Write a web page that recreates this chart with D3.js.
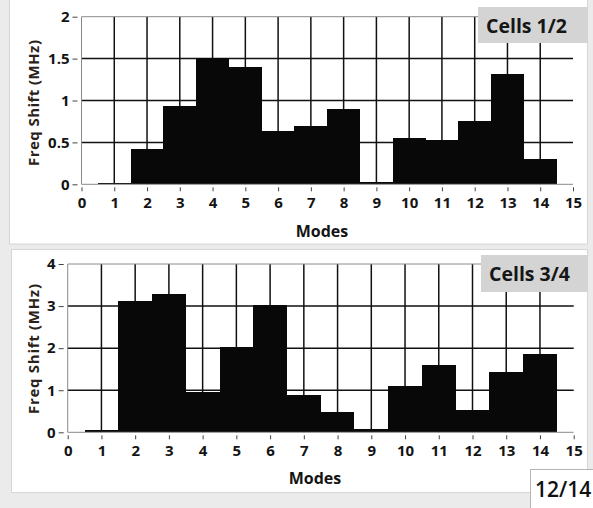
<!DOCTYPE html>
<html>
<head>
<meta charset="utf-8">
<script src="https://cdn.jsdelivr.net/npm/d3@7/dist/d3.min.js"></script>
<style>
  html, body { margin: 0; padding: 0; background: #ebebeb; }
  svg { display: block; }
  text { font-family: "Open Sans", "Noto Sans", sans-serif; }
</style>
</head>
<body>
<svg id="chart" width="593" height="508"></svg>
<script>
// Frequency shift per mode, two cell pairs
const modes = [1, 2, 3, 4, 5, 6, 7, 8, 9, 10, 11, 12, 13, 14];
const shiftCells12 = [0.02, 0.42, 0.93, 1.51, 1.40, 0.64, 0.69, 0.90, 0.03, 0.55, 0.53, 0.76, 1.32, 0.30];
const shiftCells34 = [0.06, 3.13, 3.29, 0.96, 2.03, 3.03, 0.89, 0.49, 0.08, 1.11, 1.61, 0.53, 1.43, 1.86];
const xTickValues = [0, 1, 2, 3, 4, 5, 6, 7, 8, 9, 10, 11, 12, 13, 14, 15];
const yTicks12 = [0, 0.5, 1, 1.5, 2];
const yTicks34 = [0, 1, 2, 3, 4];
const legend12 = "Cells 1/2";
const legend34 = "Cells 3/4";
const xTitle = "Modes";
const yTitle = "Freq Shift (MHz)";
const pageLabel = "12/14";

const svg = d3.select("#chart");

// panel backgrounds
svg.append("rect").attr("x", 9.5).attr("y", -1).attr("width", 578).attr("height", 245)
  .attr("fill", "#fff").attr("stroke", "#d6d6d6");
svg.append("rect").attr("x", 11.5).attr("y", 249.5).attr("width", 576).attr("height", 243)
  .attr("fill", "#fff").attr("stroke", "#d6d6d6");

function drawPanel(opts) {
  const g = svg.append("g");
  const x = d3.scaleLinear().domain([0, 15]).range([opts.left, opts.right]);
  const y = d3.scaleLinear().domain([0, opts.yMax]).range([opts.bottom, opts.top]);

  // grid lines
  g.append("g").selectAll("line").data(xTickValues.filter(d => d > 0 && d < 15)).join("line")
    .attr("x1", d => x(d)).attr("x2", d => x(d))
    .attr("y1", y(opts.yMax)).attr("y2", y(0))
    .attr("stroke", "#111").attr("stroke-width", 1.5);
  g.append("g").selectAll("line").data(opts.yTicks.filter(d => d > 0 && d < opts.yMax)).join("line")
    .attr("x1", x(0)).attr("x2", x(15))
    .attr("y1", d => y(d)).attr("y2", d => y(d))
    .attr("stroke", "#111").attr("stroke-width", 1.5);

  // bars: one unit wide, centred on each mode
  g.append("g").selectAll("rect").data(modes.map((m, i) => ({ m, v: opts.values[i] }))).join("rect")
    .attr("x", d => x(d.m - 0.5))
    .attr("width", d => x(d.m + 0.5) - x(d.m - 0.5))
    .attr("y", d => y(d.v))
    .attr("height", d => y(0) - y(d.v))
    .attr("fill", "#080808")
    .attr("shape-rendering", "crispEdges");

  // frame
  g.append("path")
    .attr("d", `M${x(15)},${y(opts.yMax)}H${x(0)}V${y(0)}H${x(15)}`)
    .attr("fill", "none").attr("stroke", "#8a8a8a").attr("stroke-width", 1);

  // x axis ticks and labels
  const xAxis = d3.axisBottom(x).tickValues(xTickValues).tickSize(4).tickPadding(6)
    .tickFormat(d3.format("d"));
  const xa = g.append("g").attr("transform", `translate(0,${y(0) + 3})`).call(xAxis);
  xa.select(".domain").remove();
  xa.selectAll(".tick line").attr("stroke", "#444");
  xa.selectAll(".tick text").attr("font-size", 15).attr("font-weight", 700)
    .attr("fill", "#141414").attr("font-family", "'Open Sans', sans-serif");

  // y axis ticks and labels
  const yAxis = d3.axisLeft(y).tickValues(opts.yTicks).tickSize(5).tickPadding(3)
    .tickFormat(d => String(d));
  const ya = g.append("g").attr("transform", `translate(${x(0) - 4},0)`).call(yAxis);
  ya.select(".domain").remove();
  ya.selectAll(".tick line").attr("stroke", "#444");
  ya.selectAll(".tick text").attr("font-size", 15).attr("font-weight", 700)
    .attr("fill", "#141414").attr("font-family", "'Open Sans', sans-serif");

  // axis titles
  g.append("text").attr("x", opts.xTitleX).attr("y", opts.xTitleY)
    .attr("text-anchor", "middle").attr("font-size", 16).attr("font-weight", 700)
    .attr("fill", "#141414").text(xTitle);
  g.append("text")
    .attr("transform", `translate(${opts.yTitleX},${opts.yTitleY}) rotate(-90)`)
    .attr("text-anchor", "middle").attr("font-size", 15).attr("font-weight", 700)
    .attr("textLength", opts.yTitleLen).attr("lengthAdjust", "spacing")
    .attr("fill", "#2a2218").text(yTitle);

  // legend tag
  g.append("rect").attr("x", opts.legend.x).attr("y", opts.legend.y)
    .attr("width", 588 - opts.legend.x).attr("height", opts.legend.h).attr("fill", "#d4d4d4");
  g.append("text").attr("x", opts.legend.x + 8).attr("y", opts.legend.y + 26)
    .attr("font-size", 19.5).attr("font-weight", 700).attr("fill", "#161616").text(opts.legend.label);
}

drawPanel({
  values: shiftCells12, yMax: 2, yTicks: yTicks12,
  left: 81.5, right: 573, top: 16.7, bottom: 184.3,
  xTitleX: 322, xTitleY: 237, yTitleX: 38.5, yTitleY: 103, yTitleLen: 126,
  legend: { x: 478, y: 7, h: 36, label: legend12 }
});
drawPanel({
  values: shiftCells34, yMax: 4, yTicks: yTicks34,
  left: 67.7, right: 573.7, top: 264, bottom: 432.3,
  xTitleX: 315, xTitleY: 484, yTitleX: 38.5, yTitleY: 349, yTitleLen: 130,
  legend: { x: 481, y: 255, h: 37, label: legend34 }
});

// page indicator
svg.append("rect").attr("x", 530.5).attr("y", 469.5).attr("width", 70).attr("height", 45)
  .attr("fill", "#fff").attr("stroke", "#b5b5b5");
svg.append("text").attr("x", 535).attr("y", 497).attr("font-size", 21).attr("font-weight", 600)
  .attr("fill", "#111").text(pageLabel);
</script>
</body>
</html>
